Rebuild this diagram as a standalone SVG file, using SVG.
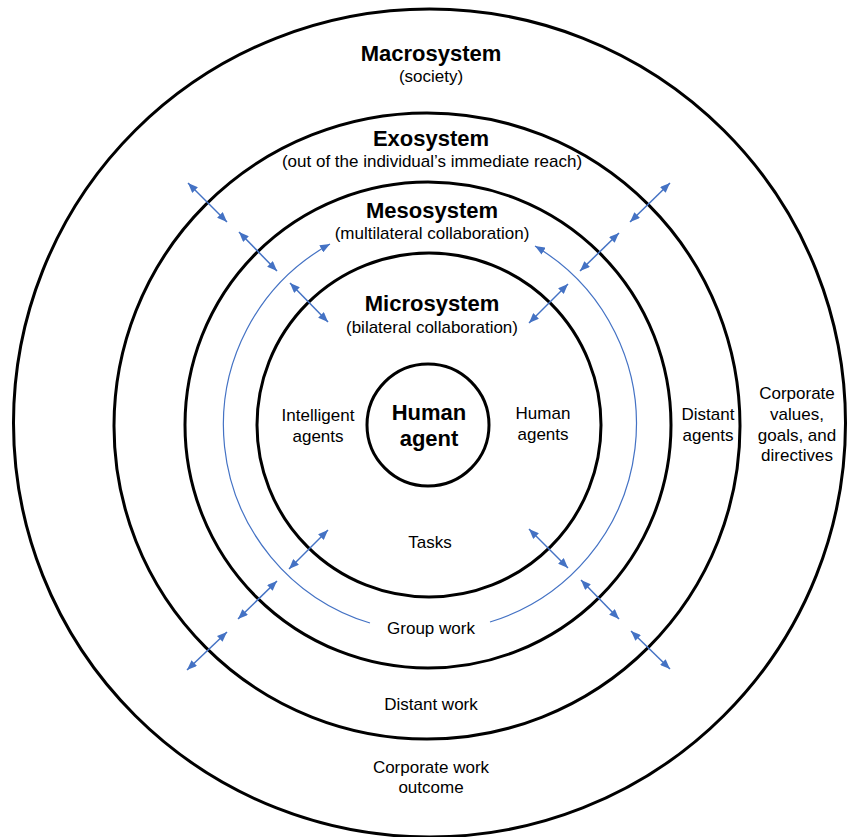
<svg xmlns="http://www.w3.org/2000/svg" width="848" height="837" viewBox="0 0 848 837">
<style>
.ring{fill:none;stroke:#000;stroke-width:3}
.t{font-family:"Liberation Sans",Arial,sans-serif;fill:#000;text-anchor:middle}
.h{font-size:22px;font-weight:bold}
.s{font-size:17px}
.c{fill:none;stroke:#4472C4;stroke-width:1.5}
.arc{fill:none;stroke:#4472C4;stroke-width:1.2}
</style>
<defs>
<marker id="ah" viewBox="0 0 10 8" refX="10" refY="4" markerWidth="10" markerHeight="8" markerUnits="userSpaceOnUse" orient="auto-start-reverse">
<path d="M0,0 L10,4 L0,8 z" fill="#4472C4"/>
</marker>
</defs>
<rect width="848" height="837" fill="#fff"/>
<g id="macrosystem">
<ellipse class="ring" cx="429.5" cy="423" rx="416" ry="414"/>
<text class="t h" x="431" y="61">Macrosystem</text>
<text class="t s" x="431" y="82">(society)</text>
<text class="t s" x="797" y="399">Corporate</text>
<text class="t s" x="797" y="420">values,</text>
<text class="t s" x="797" y="441">goals, and</text>
<text class="t s" x="797" y="461">directives</text>
<text class="t s" x="431" y="773">Corporate work</text>
<text class="t s" x="431" y="793">outcome</text>
</g>
<g id="exosystem">
<circle class="ring" cx="427" cy="426" r="313"/>
<text class="t h" x="431" y="146">Exosystem</text>
<text class="t s" x="432" y="167">(out of the individual’s immediate reach)</text>
<text class="t s" x="708" y="420">Distant</text>
<text class="t s" x="708" y="441">agents</text>
<text class="t s" x="431" y="710">Distant work</text>
</g>
<g id="mesosystem">
<circle class="ring" cx="428" cy="425" r="243"/>
<text class="t h" x="432" y="218">Mesosystem</text>
<text class="t s" x="432" y="239">(multilateral collaboration)</text>
<text class="t s" x="431" y="634">Group work</text>
</g>
<g id="microsystem">
<circle class="ring" cx="429" cy="425" r="172"/>
<text class="t h" x="432" y="311">Microsystem</text>
<text class="t s" x="432" y="333">(bilateral collaboration)</text>
<text class="t s" x="318" y="421">Intelligent</text>
<text class="t s" x="318" y="442">agents</text>
<text class="t s" x="543" y="419">Human</text>
<text class="t s" x="543" y="440">agents</text>
<text class="t s" x="430" y="548">Tasks</text>
</g>
<g id="human-agent">
<circle class="ring" cx="428" cy="425" r="61"/>
<text class="t h" x="429" y="420">Human</text>
<text class="t h" x="429" y="446">agent</text>
</g>
<g id="connectors">
<path class="arc" d="M370,623 A207,207 0 0 1 330,244" marker-end="url(#ah)"/>
<path class="arc" d="M490,622 A207,207 0 0 0 535,246" marker-end="url(#ah)"/>
<line class="c" x1="188" y1="183" x2="227" y2="222" marker-start="url(#ah)" marker-end="url(#ah)"/>
<line class="c" x1="239" y1="232" x2="277" y2="271" marker-start="url(#ah)" marker-end="url(#ah)"/>
<line class="c" x1="290" y1="283" x2="328" y2="322" marker-start="url(#ah)" marker-end="url(#ah)"/>
<line class="c" x1="670" y1="183" x2="630" y2="222" marker-start="url(#ah)" marker-end="url(#ah)"/>
<line class="c" x1="619" y1="233" x2="580" y2="271" marker-start="url(#ah)" marker-end="url(#ah)"/>
<line class="c" x1="568" y1="284" x2="529" y2="323" marker-start="url(#ah)" marker-end="url(#ah)"/>
<line class="c" x1="328" y1="530" x2="289" y2="569" marker-start="url(#ah)" marker-end="url(#ah)"/>
<line class="c" x1="277" y1="581" x2="238" y2="619" marker-start="url(#ah)" marker-end="url(#ah)"/>
<line class="c" x1="227" y1="632" x2="187" y2="670" marker-start="url(#ah)" marker-end="url(#ah)"/>
<line class="c" x1="529" y1="529" x2="568" y2="568" marker-start="url(#ah)" marker-end="url(#ah)"/>
<line class="c" x1="581" y1="580" x2="619" y2="619" marker-start="url(#ah)" marker-end="url(#ah)"/>
<line class="c" x1="631" y1="631" x2="670" y2="669" marker-start="url(#ah)" marker-end="url(#ah)"/>
</g>
</svg>
